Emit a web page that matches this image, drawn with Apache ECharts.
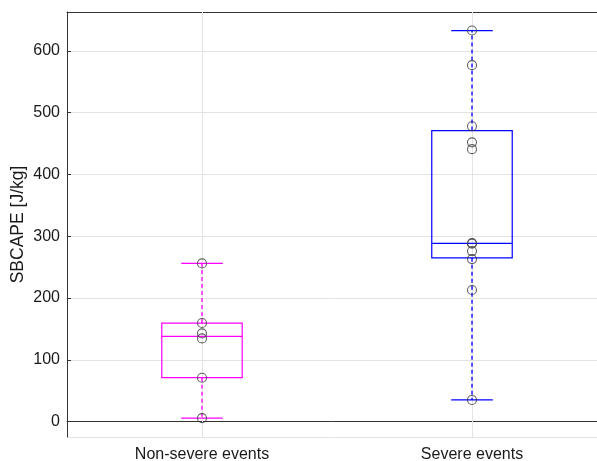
<!DOCTYPE html>
<html>
<head>
<meta charset="utf-8">
<title>SBCAPE box plot</title>
<script src="https://cdn.jsdelivr.net/npm/echarts@6/dist/echarts.min.js"></script>
<style>
  html, body { margin: 0; padding: 0; background: #ffffff; }
  #chart { width: 597px; height: 461px; }
</style>
</head>
<body>
<div id="chart"></div>
<script>
// Groups on the x axis
const categories = ['Non-severe events', 'Severe events'];

// Box statistics per group (whisker ends, quartiles, median), J/kg
const whiskerLow  = [5.5, 35];
const quartile1   = [71, 265];
const medians     = [138, 288.5];
const quartile3   = [159.5, 471];
const whiskerHigh = [256, 633];

// Individual observations per group, J/kg
const nonSevereObs = [5.5, 71, 134.6, 142.7, 159.5, 256];
const severeObs = [35, 213, 263, 276, 288, 289, 441, 452, 478, 577, 633];

// Y axis range
const yMin = -25;
const yMax = 663;

const groupColors = ['#ff00ff', '#0000ff'];
const axisColor = '#333333';
const gridColor = '#e3e3e3';
const fontFamily = 'Liberation Sans, Arial, Helvetica, sans-serif';

const boxData = categories.map((c, i) => [
  i, whiskerLow[i], quartile1[i], medians[i], quartile3[i], whiskerHigh[i]
]);

const obsData = [];
nonSevereObs.forEach(v => obsData.push([0, v]));
severeObs.forEach(v => obsData.push([1, v]));

function renderBox(params, api) {
  const idx = api.value(0);
  const band = api.size([1, 0])[0];
  const halfBox = band * 0.149;
  const halfCap = band * 0.077;
  const color = groupColors[idx];
  const pLow = api.coord([idx, api.value(1)]);
  const pQ1 = api.coord([idx, api.value(2)]);
  const pMed = api.coord([idx, api.value(3)]);
  const pQ3 = api.coord([idx, api.value(4)]);
  const pHigh = api.coord([idx, api.value(5)]);
  const cx = pMed[0];
  const solid = { stroke: color, lineWidth: 1.2, fill: null };
  const dashed = { stroke: color, lineWidth: 1.3, lineDash: [4, 3], fill: null };
  return {
    type: 'group',
    children: [
      { type: 'line', shape: { x1: cx, y1: pQ3[1], x2: cx, y2: pHigh[1] }, style: dashed },
      { type: 'line', shape: { x1: cx, y1: pQ1[1], x2: cx, y2: pLow[1] }, style: dashed },
      { type: 'line', shape: { x1: cx - halfCap, y1: pHigh[1], x2: cx + halfCap, y2: pHigh[1] }, style: solid },
      { type: 'line', shape: { x1: cx - halfCap, y1: pLow[1], x2: cx + halfCap, y2: pLow[1] }, style: solid },
      { type: 'rect', shape: { x: cx - halfBox, y: pQ3[1], width: 2 * halfBox, height: pQ1[1] - pQ3[1] }, style: solid },
      { type: 'line', shape: { x1: cx - halfBox, y1: pMed[1], x2: cx + halfBox, y2: pMed[1] }, style: solid }
    ]
  };
}

const chart = echarts.init(document.getElementById('chart'), null, { renderer: 'canvas' });

chart.setOption({
  animation: false,
  backgroundColor: '#ffffff',
  textStyle: { fontFamily: fontFamily },
  grid: { left: 67, top: 12, right: -10, bottom: 24, containLabel: false, outerBoundsMode: 'none' },
  xAxis: [
    {
      type: 'category',
      data: categories,
      position: 'bottom',
      boundaryGap: true,
      axisLine: { show: true, lineStyle: { color: axisColor, width: 1 } },
      axisTick: { show: true, inside: true, alignWithLabel: true, length: 4, lineStyle: { color: axisColor } },
      axisLabel: { color: '#1a1a1a', fontSize: 16, margin: 10, fontFamily: fontFamily },
      splitLine: { show: false }
    },
    {
      type: 'category',
      data: categories,
      position: 'top',
      boundaryGap: true,
      axisLine: { show: true, lineStyle: { color: axisColor, width: 1 } },
      axisTick: { show: true, inside: true, alignWithLabel: true, length: 4, lineStyle: { color: axisColor } },
      axisLabel: { show: false },
      splitLine: { show: false }
    }
  ],
  yAxis: {
    type: 'value',
    min: yMin,
    max: yMax,
    splitNumber: 6,
    name: 'SBCAPE [J/kg]',
    nameLocation: 'middle',
    nameGap: 40,
    nameMoveOverlap: false,
    nameTextStyle: { fontSize: 17.5, color: '#1a1a1a', fontFamily: fontFamily },
    axisLine: { show: true, lineStyle: { color: axisColor, width: 1 } },
    axisTick: { show: true, inside: true, length: 4, lineStyle: { color: axisColor } },
    axisLabel: { color: '#1a1a1a', fontSize: 16, margin: 7, showMinLabel: false, showMaxLabel: false, fontFamily: fontFamily },
    splitLine: { show: true, lineStyle: { color: gridColor, width: 1 } }
  },
  series: [
    {
      // vertical grid lines through each group centre
      type: 'scatter',
      data: [],
      silent: true,
      z: 1,
      markLine: {
        silent: true,
        z: 1,
        symbol: 'none',
        label: { show: false },
        lineStyle: { color: gridColor, type: 'solid', width: 1 },
        data: categories.map(c => ({ xAxis: c }))
      }
    },
    {
      type: 'custom',
      renderItem: renderBox,
      data: boxData,
      encode: { x: 0, y: [1, 2, 3, 4, 5] },
      z: 3
    },
    {
      type: 'scatter',
      data: obsData,
      symbol: 'circle',
      symbolSize: 9,
      itemStyle: { color: 'rgba(0,0,0,0)', borderColor: '#3a3a3a', borderWidth: 1.1 },
      z: 4
    }
  ]
});
</script>
</body>
</html>
